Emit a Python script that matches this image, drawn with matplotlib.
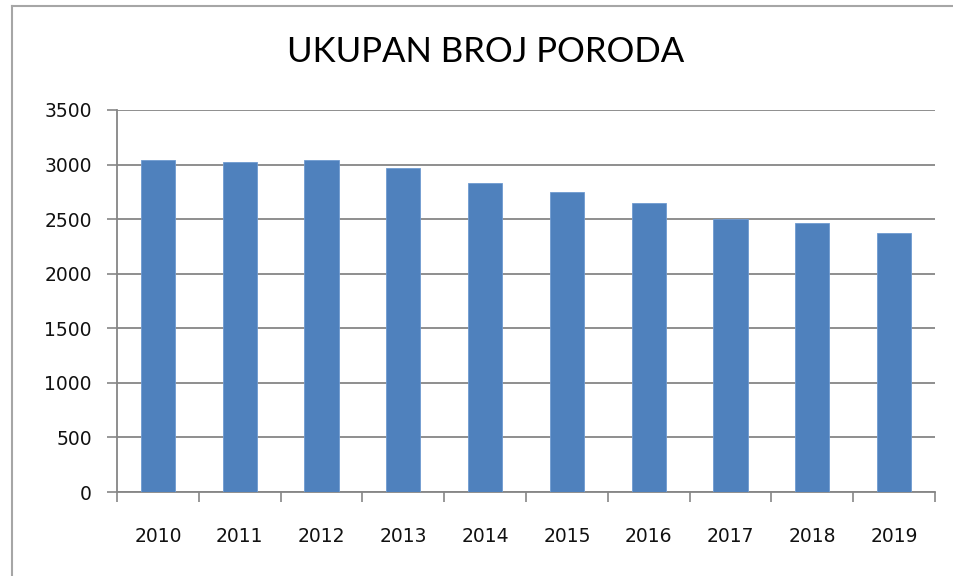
import matplotlib
matplotlib.use("Agg")
import matplotlib.pyplot as plt
from matplotlib.lines import Line2D
import numpy as np

years = ["2010", "2011", "2012", "2013", "2014", "2015", "2016", "2017", "2018", "2019"]
values = [3045, 3025, 3045, 2970, 2828, 2752, 2645, 2498, 2465, 2375]
yticks = [0, 500, 1000, 1500, 2000, 2500, 3000, 3500]
title = "UKUPAN BROJ PORODA"

plt.rcParams['font.family'] = ['DejaVu Sans']

W, H = 954, 576
fig = plt.figure(figsize=(W / 100, H / 100), dpi=100)
fig.patch.set_facecolor("white")

# chart border (left and top visible)
fig.add_artist(Line2D([12 / W, 12 / W], [0, 1 - 6 / H], transform=fig.transFigure,
                      color="#a6a6a6", lw=1.5))
fig.add_artist(Line2D([12 / W, 1], [1 - 6 / H, 1 - 6 / H], transform=fig.transFigure,
                      color="#a6a6a6", lw=1.5))

left, right, top, bottom = 117, 935, 110, 492
ax = fig.add_axes([left / W, 1 - bottom / H, (right - left) / W, (bottom - top) / H])

x = np.arange(len(years))
ax.bar(x, values, width=0.42, color="#4F81BD", edgecolor="#6f9bd1", linewidth=0.6, zorder=3)

ax.set_xlim(-0.5, len(years) - 0.5)
ax.set_ylim(0, 3500)
ax.set_yticks(yticks)
ax.set_yticklabels([str(v) for v in yticks], fontsize=13.5, color="#111111")
ax.set_xticks(x)
ax.set_xticklabels(years, fontsize=13.5, color="#111111")
ax.set_xticks(np.arange(-0.5, len(years)), minor=True)

ax.tick_params(axis="x", which="major", length=0, pad=25)
ax.tick_params(axis="x", which="minor", length=7, width=1.2, color="#868686", direction="out")
ax.tick_params(axis="y", which="major", length=7, width=1.2, color="#868686", pad=11, direction="out")

ax.grid(axis="y", color="#868686", lw=1.3, zorder=0)
for s in ["top", "right"]:
    ax.spines[s].set_visible(False)
for s in ["left", "bottom"]:
    ax.spines[s].set_color("#868686")
    ax.spines[s].set_linewidth(1.3)

fig.text(486 / W, 1 - 52 / H, title, ha="center", va="center", fontsize=25,
         color="black", family=["Lato", "DejaVu Sans"])

fig.savefig("out.png", dpi=100)
